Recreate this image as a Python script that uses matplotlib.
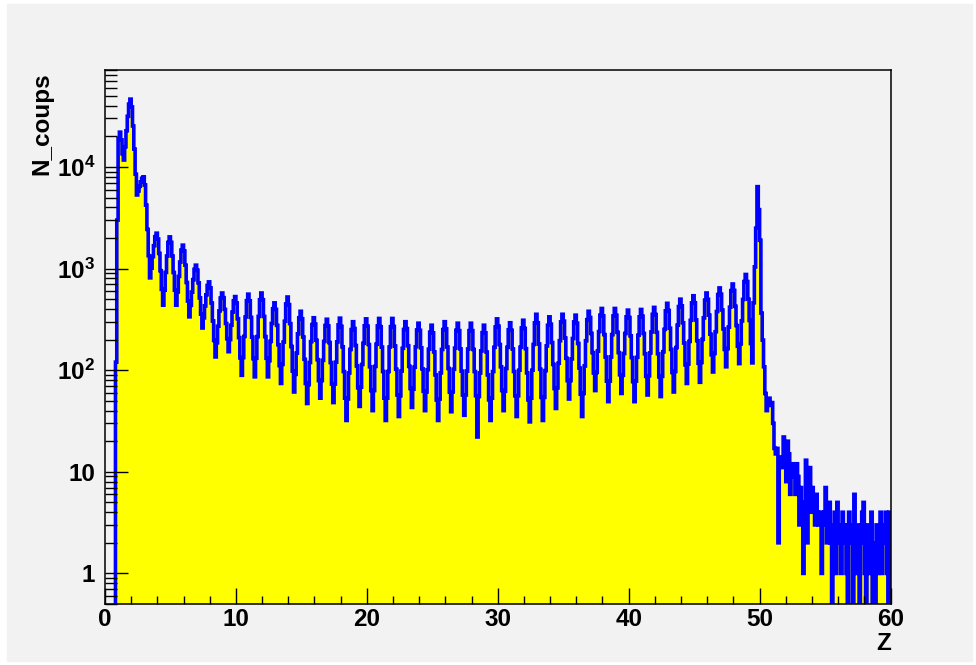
import numpy as np
import matplotlib.pyplot as plt
from matplotlib.patches import Rectangle
from matplotlib.ticker import LogLocator, FixedLocator, FixedFormatter, MultipleLocator, NullFormatter

plt.rcParams['font.family'] = ['Liberation Sans', 'DejaVu Sans']
plt.rcParams['font.weight'] = 'bold'
plt.rcParams['mathtext.fontset'] = 'custom'
plt.rcParams['mathtext.bf'] = 'Liberation Sans:bold'
plt.rcParams['mathtext.rm'] = 'Liberation Sans:bold'

# histogramme en Z : 600 bins de 0.1 entre 0 et 60
z_min, z_max, n_bins = 0.0, 60.0, 600

# bins 0.0 - 0.4
counts_start = [0, 0, 0, 0, 0]

# une ligne = 10 bins, de Z-0.5 a Z+0.4
counts_z01_10 = [
    0, 0, 0, 120, 3000, 19000, 22000, 18500, 13500, 11700,
    15800, 22700, 31500, 41600, 46500, 39000, 25300, 15000, 8500, 5300,
    5800, 6450, 7130, 7740, 8000, 6660, 4210, 2430, 1340, 810,
    1010, 1310, 1680, 2060, 2230, 1950, 1410, 953, 624, 436,
    612, 916, 1330, 1810, 2050, 1810, 1330, 916, 612, 436,
    588, 838, 1160, 1520, 1700, 1490, 1080, 730, 479, 335,
    434, 587, 778, 982, 1080, 963, 724, 515, 356, 260,
    327, 430, 552, 681, 740, 646, 459, 305, 196, 135,
    186, 271, 383, 512, 575, 517, 397, 288, 204, 152,
    200, 277, 373, 480, 530, 459, 321, 209, 132, 89,
]
counts_z11_20 = [
    133, 215, 334, 483, 560, 482, 331, 211, 130, 86,
    131, 214, 338, 494, 575, 494, 338, 214, 131, 86,
    124, 192, 288, 403, 460, 397, 276, 178, 111, 74,
    114, 189, 303, 449, 525, 442, 287, 171, 98, 61,
    91, 147, 228, 328, 380, 321, 212, 128, 74, 47,
    72, 119, 191, 281, 328, 284, 197, 127, 79, 53,
    79, 125, 192, 275, 317, 272, 187, 119, 73, 48,
    73, 120, 190, 279, 325, 270, 170, 97, 53, 32,
    52, 94, 160, 251, 300, 257, 175, 110, 67, 44,
    68, 114, 184, 273, 320, 271, 179, 108, 63, 40,
]
counts_z21_30 = [
    63, 109, 180, 273, 323, 268, 169, 97, 53, 32,
    53, 97, 169, 268, 323, 270, 173, 102, 57, 35,
    56, 98, 164, 252, 300, 257, 174, 109, 66, 43,
    65, 107, 170, 249, 290, 247, 166, 103, 62, 40,
    61, 101, 161, 237, 277, 233, 151, 90, 51, 32,
    52, 94, 160, 251, 300, 255, 169, 104, 61, 39,
    61, 102, 165, 247, 290, 245, 162, 98, 57, 36,
    57, 98, 162, 245, 290, 245, 160, 97, 56, 22,
    55, 94, 155, 234, 277, 233, 151, 90, 51, 32,
    53, 97, 168, 266, 320, 271, 179, 108, 63, 40,
]
counts_z31_40 = [
    62, 104, 168, 250, 293, 247, 162, 97, 56, 35,
    56, 100, 168, 260, 310, 258, 163, 94, 51, 31,
    53, 100, 179, 292, 355, 293, 181, 102, 54, 32,
    54, 99, 173, 277, 335, 284, 187, 114, 66, 42,
    67, 117, 195, 299, 355, 304, 207, 131, 79, 52,
    79, 129, 205, 299, 348, 290, 183, 105, 58, 35,
    59, 110, 195, 314, 380, 330, 230, 149, 94, 63,
    95, 154, 240, 348, 405, 342, 224, 135, 78, 49,
    78, 135, 224, 342, 405, 347, 236, 149, 90, 59,
    89, 146, 230, 335, 390, 330, 218, 133, 77, 49,
]
counts_z41_50 = [
    78, 134, 221, 335, 396, 340, 230, 145, 87, 57,
    88, 148, 238, 354, 415, 353, 236, 145, 86, 55,
    87, 152, 252, 384, 455, 387, 259, 160, 95, 61,
    97, 167, 277, 423, 500, 430, 293, 185, 113, 74,
    115, 192, 309, 460, 540, 461, 312, 195, 117, 76,
    119, 201, 327, 490, 575, 499, 348, 226, 142, 96,
    146, 239, 378, 555, 645, 560, 391, 255, 160, 108,
    163, 265, 417, 607, 705, 610, 425, 275, 172, 116,
    181, 305, 497, 745, 875, 745, 499, 309, 183, 118,
    460, 1040, 2500, 6400, 3800, 1900, 365, 198, 108, 59,
]
# bins 50.5 - 59.9
counts_tail = [
    40, 50, 53, 45, 48, 30, 17, 15, 17, 2,
    12, 14, 11, 22, 16, 8, 20, 15, 6, 9,
    12, 10, 6, 12, 9, 3, 7, 5, 1, 4,
    13, 2, 5, 11, 4, 7, 5, 3, 6, 4,
    3, 4, 1, 3, 4, 7, 2, 3, 5, 2,
    0, 3, 4, 1, 5, 2, 3, 1, 4, 2,
    3, 1, 0, 4, 2, 3, 0, 6, 2, 1,
    3, 0, 2, 4, 5, 1, 0, 3, 2, 1,
    4, 0, 2, 0, 3, 1, 2, 4, 1, 2,
    3, 4, 1, 0, 4,
]

y_ticks = [1, 10, 100, 1000, 10000]
y_labels = ['1', '10', r'$\mathbf{10^{2}}$', r'$\mathbf{10^{3}}$', r'$\mathbf{10^{4}}$']
x_ticks = [0, 10, 20, 30, 40, 50, 60]

counts = np.concatenate([counts_start, counts_z01_10, counts_z11_20, counts_z21_30,
                         counts_z31_40, counts_z41_50, counts_tail]).astype(float)
edges = np.linspace(z_min, z_max, n_bins + 1)
floor = 1e-2
shown = np.where(counts > 0, counts, floor)

W, H = 976, 665
fig = plt.figure(figsize=(W / 100, H / 100), dpi=100, facecolor='white')
fig.patches.append(Rectangle((7 / W, 4 / H), (972 - 7) / W, (661 - 4) / H,
                             transform=fig.transFigure, color='#f2f2f2', zorder=-10))

ax = fig.add_axes([105 / W, 1 - 604 / H, (890.5 - 105) / W, (604 - 70) / H])
ax.set_facecolor('#f2f2f2')

ax.stairs(shown, edges, fill=True, color='#ffff00', baseline=floor)
ax.stairs(shown, edges, color='#0000ff', lw=2.6, baseline=floor)

ax.set_yscale('log')
ax.set_xlim(z_min, z_max)
ax.set_ylim(0.5, 9.0e4)

ax.yaxis.set_major_locator(FixedLocator(y_ticks))
ax.yaxis.set_major_formatter(FixedFormatter(y_labels))
ax.yaxis.set_minor_locator(LogLocator(base=10, subs=np.arange(2, 10), numticks=20))
ax.yaxis.set_minor_formatter(NullFormatter())
ax.xaxis.set_major_locator(FixedLocator(x_ticks))
ax.xaxis.set_minor_locator(MultipleLocator(2))

ax.tick_params(axis='y', which='major', direction='in', length=16.5, width=1,
               labelsize=17.5, pad=7, right=False)
ax.tick_params(axis='y', which='minor', direction='in', length=8.6, width=1, right=False)
ax.tick_params(axis='x', which='major', direction='in', length=11.5, width=1,
               labelsize=17.5, pad=3, top=False)
ax.tick_params(axis='x', which='minor', direction='in', length=5.8, width=1, top=False)
ax.set_axisbelow(False)
for s in ax.spines.values():
    s.set_linewidth(1.1)

fig.text(42 / W, 1 - 72 / H, 'N_coups', rotation=90, ha='center', va='top',
         fontsize=17.5, fontweight='bold')
fig.text(891 / W, 1 - 644 / H, 'Z', ha='right', va='center', fontsize=17.5, fontweight='bold')

fig.savefig('out.png', dpi=100)
